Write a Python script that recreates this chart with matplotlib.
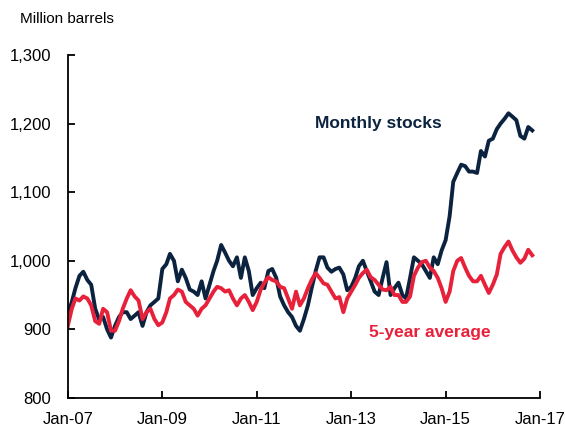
import matplotlib
matplotlib.use("Agg")
import matplotlib.pyplot as plt
import pandas as pd

plt.rcParams['font.family'] = ['Liberation Sans', 'DejaVu Sans']

# monthly values, Jan-07 onwards
stocks = [922, 940, 960, 978, 984, 972, 965, 930, 914, 918, 900, 888,
          905, 918, 925, 925, 915, 920, 925, 905, 925, 935, 940, 945,
          988, 995, 1010, 1000, 970, 987, 975, 958, 955, 950, 970, 945,
          965, 985, 1000, 1023, 1012, 1000, 992, 1005, 975, 1005, 985, 950,
          960, 968, 960, 985, 988, 975, 948, 935, 925, 918, 905, 898,
          915, 935, 960, 985, 1005, 1005, 990, 984, 988, 990, 980, 957,
          962, 975, 992, 1000, 985, 970, 955, 950, 975, 998, 950, 960,
          968, 950, 945, 975, 1005, 1000, 995, 985, 975, 1005, 995, 1015,
          1030, 1065, 1115, 1128, 1140, 1138, 1130, 1130, 1128, 1160, 1152, 1175,
          1178, 1192, 1200, 1207, 1215, 1210, 1205, 1182, 1178, 1195, 1190]

avg5 = [905, 930, 945, 942, 948, 945, 935, 912, 908, 930, 925, 898,
        898, 912, 930, 945, 957, 948, 942, 915, 925, 930, 915, 906,
        910, 925, 945, 950, 958, 955, 940, 935, 930, 920, 930, 935,
        945, 955, 962, 960, 955, 957, 945, 935, 945, 950, 940, 928,
        940, 958, 968, 976, 972, 970, 962, 960, 945, 930, 955, 935,
        945, 960, 972, 982, 975, 967, 965, 955, 945, 947, 925, 945,
        955, 965, 975, 982, 987, 976, 972, 965, 958, 957, 962, 950,
        950, 940, 940, 948, 978, 990, 998, 1000, 990, 985, 975, 960,
        940, 955, 985, 1000, 1004, 990, 978, 970, 970, 978, 965, 953,
        965, 980, 1010, 1020, 1028, 1015, 1005, 997, 1003, 1016, 1008]

dates = pd.date_range("2007-01-01", periods=len(stocks), freq="MS")
tick_dates = pd.to_datetime(["2007-01-01", "2009-01-01", "2011-01-01",
                             "2013-01-01", "2015-01-01", "2017-01-01"])
tick_labels = ["Jan-07", "Jan-09", "Jan-11", "Jan-13", "Jan-15", "Jan-17"]

navy = "#0c2340"
red = "#e8213b"

fig = plt.figure(figsize=(5.65, 4.33), dpi=100)
ax = fig.add_axes([0.120, 0.081, 0.836, 0.792])

ax.plot(dates, stocks, color=navy, lw=2.8, solid_joinstyle='round')
ax.plot(dates, avg5, color=red, lw=2.8, solid_joinstyle='round')

ax.set_xlim(tick_dates[0], tick_dates[-1])
ax.set_ylim(800, 1300)
ax.set_xticks(tick_dates)
ax.set_xticklabels(tick_labels)
ax.set_yticks([800, 900, 1000, 1100, 1200, 1300])
ax.set_yticklabels(["800", "900", "1,000", "1,100", "1,200", "1,300"])

for s in ["top", "right"]:
    ax.spines[s].set_visible(False)
for s in ["left", "bottom"]:
    ax.spines[s].set_linewidth(1.3)
ax.tick_params(axis='both', direction='in', length=5, width=1.3, labelsize=12)
ax.tick_params(axis='x', pad=10)
ax.tick_params(axis='y', pad=12)

fig.text(0.035, 0.955, "Million barrels", fontsize=11, ha='left', va='center')

ax.text(pd.Timestamp("2013-08-01"), 1200, "Monthly stocks", color=navy,
        fontsize=12.5, fontweight='bold', ha='center', va='center')
ax.text(pd.Timestamp("2014-09-01"), 895, "5-year average", color=red,
        fontsize=12.5, fontweight='bold', ha='center', va='center')

fig.savefig("out.png", dpi=100)
